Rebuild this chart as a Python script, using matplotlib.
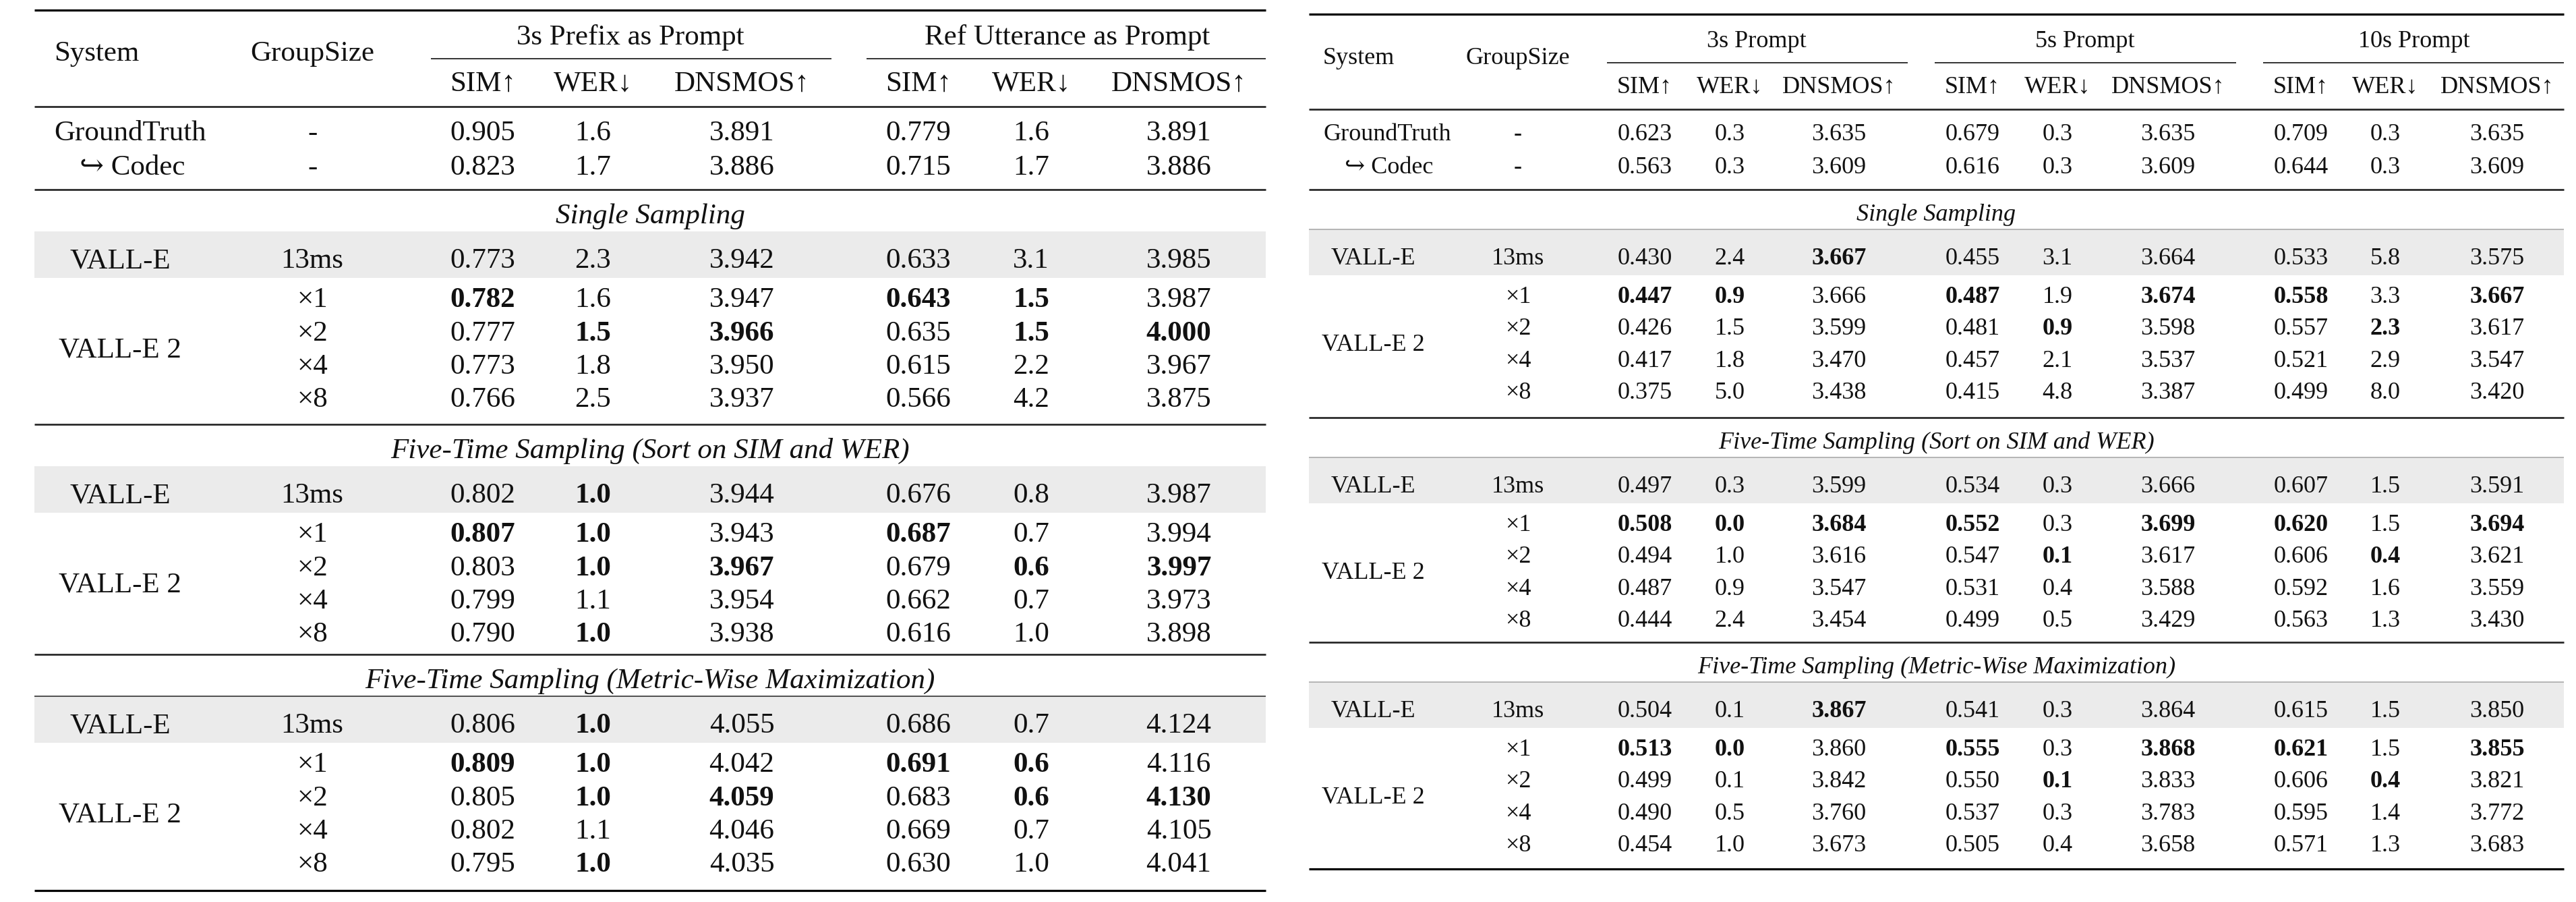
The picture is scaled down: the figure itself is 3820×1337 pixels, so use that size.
import matplotlib
matplotlib.use("Agg")
import matplotlib.pyplot as plt

plt.rcParams["font.family"] = ["Liberation Serif", "DejaVu Serif"]

# ---- data -------------------------------------------------------------
METRICS = ["SIM↑", "WER↓", "DNSMOS↑"]
SECTIONS = ["Single Sampling",
            "Five-Time Sampling (Sort on SIM and WER)",
            "Five-Time Sampling (Metric-Wise Maximization)"]
REF_SYSTEMS = ["GroundTruth", "↪ Codec"]
BASE_SYSTEM = "VALL-E"
NEW_SYSTEM = "VALL-E 2"
BASE_GROUP = "13ms"
GROUP_SIZES = ["×1", "×2", "×4", "×8"]

left_prompts = ["3s Prefix as Prompt", "Ref Utterance as Prompt"]
left_ref = [[0.905, 1.6, 3.891, 0.779, 1.6, 3.891],
            [0.823, 1.7, 3.886, 0.715, 1.7, 3.886]]
left_single = [[0.773, 2.3, 3.942, 0.633, 3.1, 3.985],
               [0.782, 1.6, 3.947, 0.643, 1.5, 3.987],
               [0.777, 1.5, 3.966, 0.635, 1.5, 4.000],
               [0.773, 1.8, 3.950, 0.615, 2.2, 3.967],
               [0.766, 2.5, 3.937, 0.566, 4.2, 3.875]]
left_sort = [[0.802, 1.0, 3.944, 0.676, 0.8, 3.987],
             [0.807, 1.0, 3.943, 0.687, 0.7, 3.994],
             [0.803, 1.0, 3.967, 0.679, 0.6, 3.997],
             [0.799, 1.1, 3.954, 0.662, 0.7, 3.973],
             [0.790, 1.0, 3.938, 0.616, 1.0, 3.898]]
left_max = [[0.806, 1.0, 4.055, 0.686, 0.7, 4.124],
            [0.809, 1.0, 4.042, 0.691, 0.6, 4.116],
            [0.805, 1.0, 4.059, 0.683, 0.6, 4.130],
            [0.802, 1.1, 4.046, 0.669, 0.7, 4.105],
            [0.795, 1.0, 4.035, 0.630, 1.0, 4.041]]
left_bold = [[(1, 0), (1, 3), (1, 4), (2, 1), (2, 2), (2, 4), (2, 5)],
             [(0, 1), (1, 0), (1, 1), (1, 3), (2, 1), (2, 2), (2, 4),
              (2, 5), (4, 1)],
             [(0, 1), (1, 0), (1, 1), (1, 3), (1, 4), (2, 1), (2, 2),
              (2, 4), (2, 5), (4, 1)]]

right_prompts = ["3s Prompt", "5s Prompt", "10s Prompt"]
right_ref = [[0.623, 0.3, 3.635, 0.679, 0.3, 3.635, 0.709, 0.3, 3.635],
             [0.563, 0.3, 3.609, 0.616, 0.3, 3.609, 0.644, 0.3, 3.609]]
right_single = [[0.430, 2.4, 3.667, 0.455, 3.1, 3.664, 0.533, 5.8, 3.575],
                [0.447, 0.9, 3.666, 0.487, 1.9, 3.674, 0.558, 3.3, 3.667],
                [0.426, 1.5, 3.599, 0.481, 0.9, 3.598, 0.557, 2.3, 3.617],
                [0.417, 1.8, 3.470, 0.457, 2.1, 3.537, 0.521, 2.9, 3.547],
                [0.375, 5.0, 3.438, 0.415, 4.8, 3.387, 0.499, 8.0, 3.420]]
right_sort = [[0.497, 0.3, 3.599, 0.534, 0.3, 3.666, 0.607, 1.5, 3.591],
              [0.508, 0.0, 3.684, 0.552, 0.3, 3.699, 0.620, 1.5, 3.694],
              [0.494, 1.0, 3.616, 0.547, 0.1, 3.617, 0.606, 0.4, 3.621],
              [0.487, 0.9, 3.547, 0.531, 0.4, 3.588, 0.592, 1.6, 3.559],
              [0.444, 2.4, 3.454, 0.499, 0.5, 3.429, 0.563, 1.3, 3.430]]
right_max = [[0.504, 0.1, 3.867, 0.541, 0.3, 3.864, 0.615, 1.5, 3.850],
             [0.513, 0.0, 3.860, 0.555, 0.3, 3.868, 0.621, 1.5, 3.855],
             [0.499, 0.1, 3.842, 0.550, 0.1, 3.833, 0.606, 0.4, 3.821],
             [0.490, 0.5, 3.760, 0.537, 0.3, 3.783, 0.595, 1.4, 3.772],
             [0.454, 1.0, 3.673, 0.505, 0.4, 3.658, 0.571, 1.3, 3.683]]
right_bold = [[(0, 2), (1, 0), (1, 1), (1, 3), (1, 5), (1, 6), (1, 8),
               (2, 4), (2, 7)],
              [(1, 0), (1, 1), (1, 2), (1, 3), (1, 5), (1, 6), (1, 8),
               (2, 4), (2, 7)],
              [(0, 2), (1, 0), (1, 1), (1, 3), (1, 5), (1, 6), (1, 8),
               (2, 4), (2, 7)]]


def fmt(v, col):
    return f"{v:.1f}" if col % 3 == 1 else f"{v:.3f}"


def draw_table(ax, prompts, ref, sections, bold, lay):
    fs = lay["fs"]
    off = 0.33 * fs * 100 / 72
    x0, x1 = lay["span"]

    def put(x, y, s, ha="center", **kw):
        ax.text(x, y + off, s, ha=ha, va="baseline", fontsize=fs,
                color="#111111", **kw)

    ax.hlines(lay["top"], x0, x1, color="black", lw=2.3)
    ax.hlines(lay["mid"], x0, x1, color="#222222", lw=1.9)
    put(lay["sys_x"], lay["sys_y"], "System", ha="left")
    put(lay["grp_x"], lay["sys_y"], "GroupSize")
    for g, name in enumerate(prompts):
        put(lay["prompt_x"][g], lay["prompt_y"], name)
        a, b = lay["cmid"][g]
        ax.hlines(lay["cmid_y"], a, b, color="#333333", lw=1.4)
    for c, x in enumerate(lay["cols"]):
        put(x, lay["metric_y"], METRICS[c % 3])

    for r, row in enumerate(ref):
        y = lay["ref_y"][r]
        put(lay["sys_x"] + (lay["indent"] if r else 0), y,
            REF_SYSTEMS[r], ha="left")
        put(lay["grp_x"], y, "-")
        for c, v in enumerate(row):
            put(lay["cols"][c], y, fmt(v, c))

    for s, rows in enumerate(sections):
        top = lay["rules"][s]
        ax.hlines(top, x0, x1, color="#222222", lw=1.9)
        put((x0 + x1) / 2, top + lay["title_dy"], SECTIONS[s],
            style="italic")
        bt, bb = top + lay["band"][0], top + lay["band"][1]
        ax.fill_between([x0, x1], bt, bb, color="#ebebeb", lw=0)
        if lay["band_line"][s]:
            ax.hlines(bt, x0, x1, color=lay["band_line"][s], lw=1.2)
        ys = [top + lay["base_dy"]] + [top + lay["x1_dy"] + k * lay["pitch"]
                                       for k in range(4)]
        put(lay["name_x"], ys[0], BASE_SYSTEM)
        put(lay["grp_x"], ys[0], BASE_GROUP)
        put(lay["name_x"], (ys[1] + ys[4]) / 2, NEW_SYSTEM)
        for k in range(4):
            put(lay["grp_x"], ys[k + 1], GROUP_SIZES[k])
        for r, row in enumerate(rows):
            for c, v in enumerate(row):
                w = "bold" if (r, c) in bold[s] else "normal"
                put(lay["cols"][c], ys[r], fmt(v, c), fontweight=w)
    ax.hlines(lay["bottom"], x0, x1, color="black", lw=2.3)


left_layout = dict(
    fs=31, span=(51, 1877), top=15, mid=158, sys_x=80, sys_y=76,
    grp_x=463, name_x=178, indent=38,
    prompt_x=[935, 1583], prompt_y=52, cmid=[(639, 1233), (1285, 1877)],
    cmid_y=87, metric_y=121, cols=[716, 879, 1100, 1362, 1529, 1748],
    ref_y=[194, 245], rules=[281, 629, 970], title_dy=36, band=(62, 131),
    band_line=[None, None, "#333333"], base_dy=102, x1_dy=160, pitch=49.3,
    bottom=1320)

right_layout = dict(
    fs=26, span=(1941, 3802), top=21, mid=162, sys_x=1962, sys_y=83,
    grp_x=2251, name_x=2036, indent=32,
    prompt_x=[2605, 3092, 3580], prompt_y=58,
    cmid=[(2383, 2829), (2869, 3316), (3356, 3802)], cmid_y=93,
    metric_y=126,
    cols=[2439, 2565, 2727, 2925, 3051, 3215, 3412, 3537, 3703],
    ref_y=[196, 245], rules=[281, 619, 952], title_dy=34, band=(59, 127),
    band_line=["#aaaaaa", "#aaaaaa", "#aaaaaa"], base_dy=99, x1_dy=156,
    pitch=47.3, bottom=1288)

fig = plt.figure(figsize=(38.2, 13.37), dpi=100)
ax = fig.add_axes([0, 0, 1, 1])
ax.set_xlim(0, 3820)
ax.set_ylim(1337, 0)
ax.axis("off")

draw_table(ax, left_prompts, left_ref, [left_single, left_sort, left_max],
           left_bold, left_layout)
draw_table(ax, right_prompts, right_ref,
           [right_single, right_sort, right_max], right_bold, right_layout)

fig.savefig("out.png", dpi=100, facecolor="white")
